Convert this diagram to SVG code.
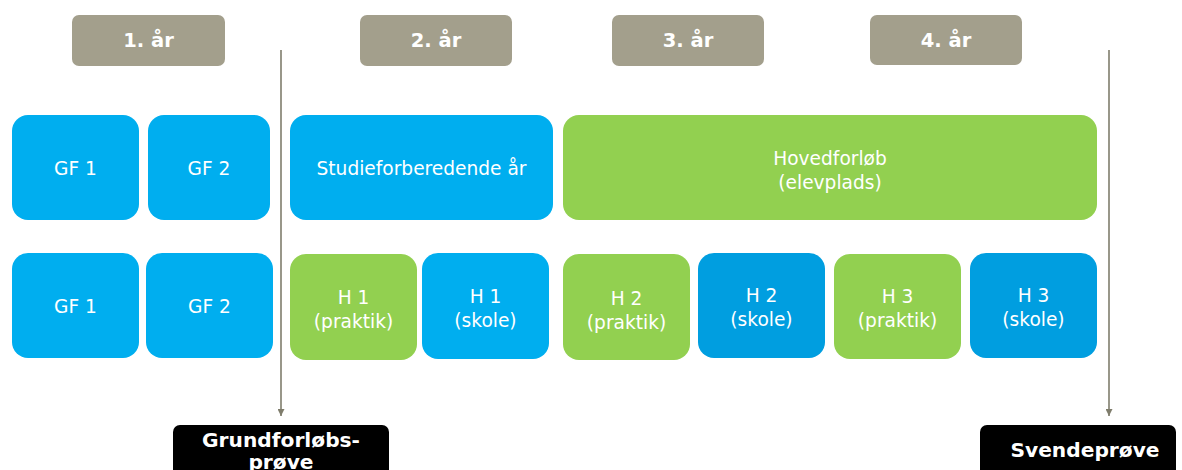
<svg xmlns="http://www.w3.org/2000/svg" width="1182" height="470" viewBox="0 0 1182 470">
<style>
.yr{fill:#a39f8c}
.yt{font-family:"DejaVu Sans",Verdana,sans-serif;font-weight:bold;font-size:19.5px;fill:#fff;text-anchor:middle}
.b1{fill:#00aeef}
.b2{fill:#009ee0}
.g{fill:#92d050}
.t{font-family:"DejaVu Sans",Verdana,sans-serif;font-size:18.6px;fill:#fff;text-anchor:middle}
.k{fill:#000}
.kt{font-family:"DejaVu Sans",Verdana,sans-serif;font-weight:bold;font-size:20.2px;fill:#fff;text-anchor:middle}
.ln{stroke:#7f7d6c;stroke-width:1.6;fill:none}
</style>
<defs>
<marker id="ah" viewBox="0 0 10 10" refX="10" refY="5" markerWidth="7" markerHeight="7" markerUnits="userSpaceOnUse" orient="auto">
<path d="M0,0 L10,5 L0,10 z" fill="#7f7d6c"/>
</marker>
</defs>
<rect width="1182" height="470" fill="#fff"/>
<g id="y1"><rect class="yr" x="72" y="15" width="153" height="51" rx="7"/><text class="yt" x="148.5" y="47">1. år</text></g>
<g id="y2"><rect class="yr" x="360" y="15" width="152" height="51" rx="7"/><text class="yt" x="436" y="47">2. år</text></g>
<g id="y3"><rect class="yr" x="612" y="15" width="152" height="51" rx="7"/><text class="yt" x="688" y="47">3. år</text></g>
<g id="y4"><rect class="yr" x="870" y="15" width="152" height="50" rx="7"/><text class="yt" x="946" y="47">4. år</text></g>

<g id="connectors">
<line class="ln" x1="281" y1="50" x2="281" y2="416" marker-end="url(#ah)"/>
<line class="ln" x1="1109" y1="50" x2="1109" y2="416" marker-end="url(#ah)"/>
</g>

<g id="gf1a"><rect class="b1" x="12" y="115" width="127" height="105" rx="16"/><text class="t" x="75.5" y="175">GF 1</text></g>
<g id="gf2a"><rect class="b1" x="148" y="115" width="122" height="105" rx="16"/><text class="t" x="209" y="175">GF 2</text></g>
<g id="studie"><rect class="b1" x="290" y="115" width="263" height="105" rx="16"/><text class="t" x="421.5" y="175">Studieforberedende år</text></g>
<g id="hoved"><rect class="g" x="563" y="115" width="534" height="105" rx="16"/><text class="t" x="830" y="165">Hovedforløb</text><text class="t" x="830" y="189">(elevplads)</text></g>

<g id="gf1b"><rect class="b1" x="12" y="253" width="127" height="105" rx="16"/><text class="t" x="75.5" y="313">GF 1</text></g>
<g id="gf2b"><rect class="b1" x="146" y="253" width="127" height="105" rx="16"/><text class="t" x="209.5" y="313">GF 2</text></g>
<g id="h1p"><rect class="g" x="290" y="254" width="127" height="106" rx="16"/><text class="t" x="353.5" y="304">H 1</text><text class="t" x="353.5" y="328">(praktik)</text></g>
<g id="h1s"><rect class="b1" x="422" y="253" width="127" height="106" rx="16"/><text class="t" x="485.5" y="303">H 1</text><text class="t" x="485.5" y="327">(skole)</text></g>
<g id="h2p"><rect class="g" x="563" y="254" width="127" height="106" rx="16"/><text class="t" x="626.5" y="305">H 2</text><text class="t" x="626.5" y="329">(praktik)</text></g>
<g id="h2s"><rect class="b2" x="698" y="253" width="127" height="105" rx="16"/><text class="t" x="761.5" y="302">H 2</text><text class="t" x="761.5" y="326">(skole)</text></g>
<g id="h3p"><rect class="g" x="834" y="254" width="127" height="105" rx="16"/><text class="t" x="897.5" y="303">H 3</text><text class="t" x="897.5" y="327">(praktik)</text></g>
<g id="h3s"><rect class="b2" x="970" y="253" width="127" height="105" rx="16"/><text class="t" x="1033.5" y="302">H 3</text><text class="t" x="1033.5" y="326">(skole)</text></g>

<g id="grundprove"><rect class="k" x="173" y="425" width="216" height="60" rx="7"/><text class="kt" x="281" y="447">Grundforløbs-</text><text class="kt" x="281" y="469">prøve</text></g>
<g id="svendeprove"><rect class="k" x="980" y="425" width="196" height="60" rx="7"/><text class="kt" x="1085" y="457">Svendeprøve</text></g>
</svg>
